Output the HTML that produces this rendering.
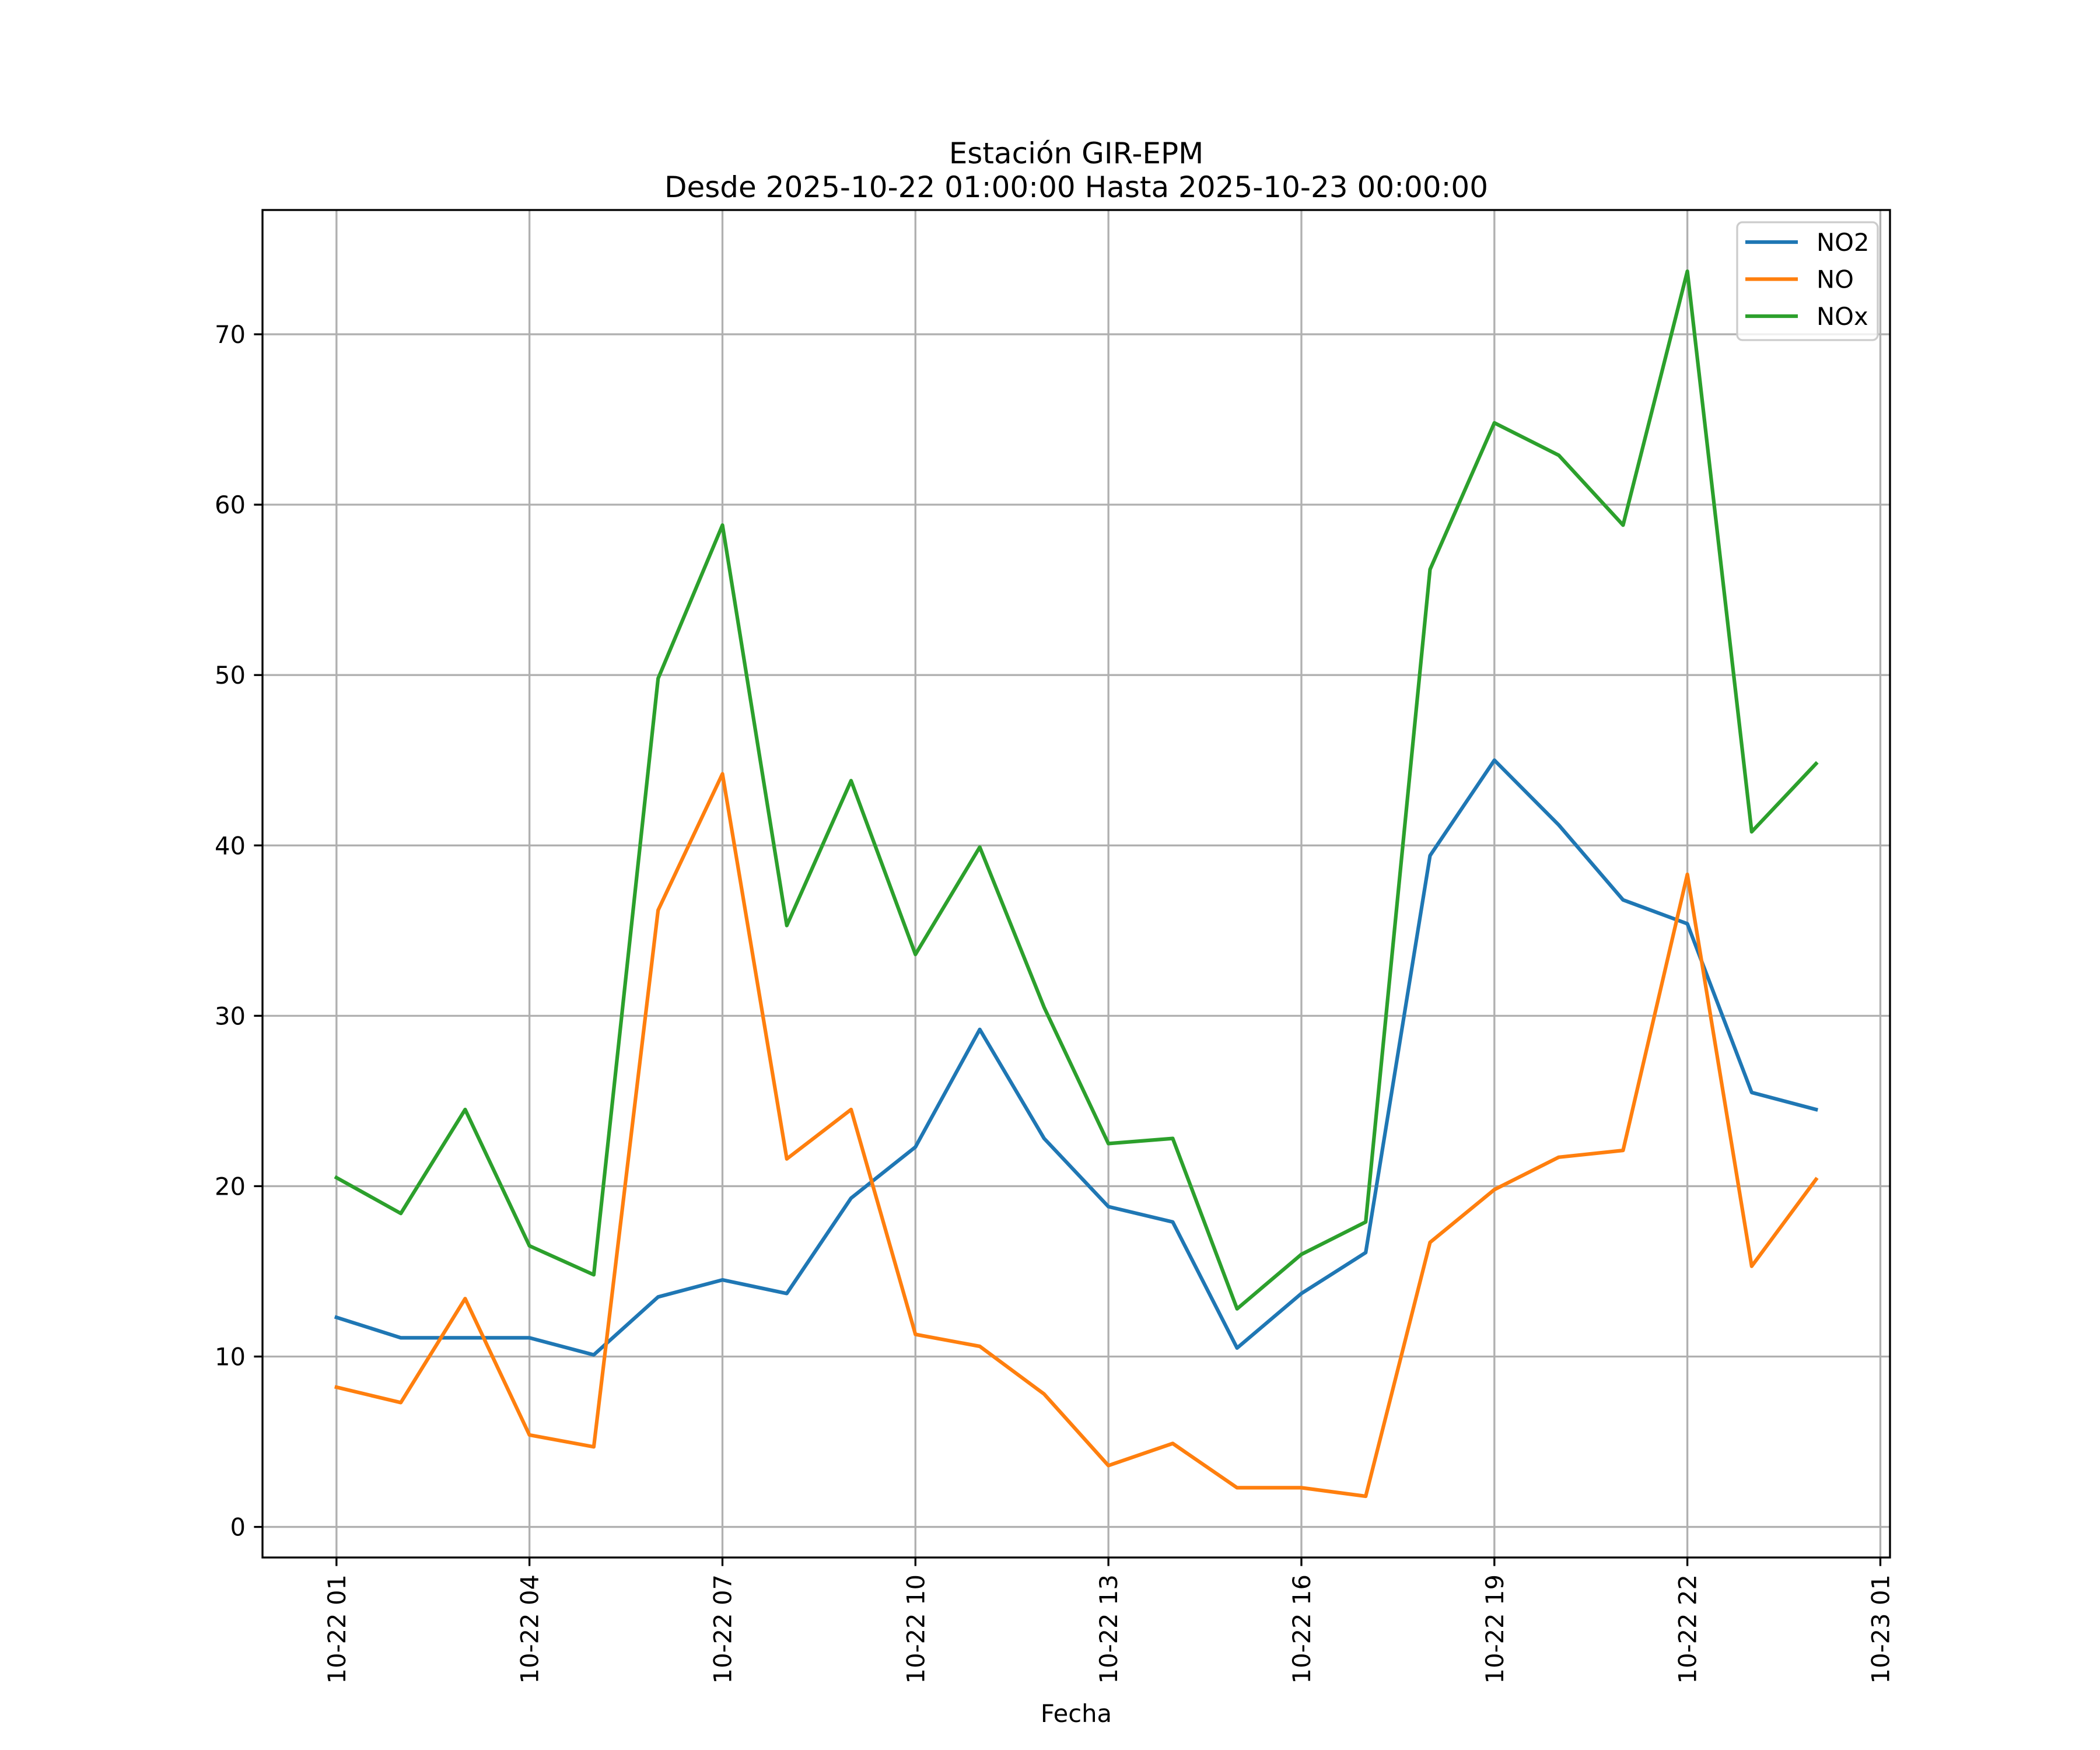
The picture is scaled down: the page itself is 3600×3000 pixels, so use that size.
<!DOCTYPE html>
<html><head><meta charset="utf-8"><style>
html,body{margin:0;padding:0;background:#fff;}
svg{display:block;font-family:"DejaVu Sans","Liberation Sans",sans-serif;}
</style></head><body>
<svg id="chart" width="3600" height="3000" viewBox="0 0 3600 3000" xmlns="http://www.w3.org/2000/svg">
<rect width="3600" height="3000" fill="#fff"/>
<text x="1845" y="280" font-size="50" text-anchor="middle">Estación GIR-EPM</text>
<text x="1845" y="338" font-size="50" text-anchor="middle">Desde 2025-10-22 01:00:00 Hasta 2025-10-23 00:00:00</text>
<g id="grid"></g>
<g id="series"></g>
<rect x="450" y="360" width="2790" height="2310" fill="none" stroke="#000" stroke-width="3.33"/>
<g id="ticks"></g>
<text x="1845" y="2952" font-size="41.7" text-anchor="middle">Fecha</text>
<g id="legend"></g>
</svg>
<script>
const hours = [0,1,2,3,4,5,6,7,8,9,10,11,12,13,14,15,16,17,18,19,20,21,22,23];
const no2 = [12.3,11.1,11.1,11.1,10.1,13.5,14.5,13.7,19.3,22.3,29.2,22.8,18.8,17.9,10.5,13.7,16.1,39.4,45.0,41.2,36.8,35.4,25.5,24.5];
const no = [8.2,7.3,13.4,5.4,4.7,36.2,44.2,21.6,24.5,11.3,10.6,7.8,3.6,4.9,2.3,2.3,1.8,16.7,19.8,21.7,22.1,38.3,15.3,20.4];
const nox = [20.5,18.4,24.5,16.5,14.8,49.8,58.8,35.3,43.8,33.6,39.9,30.5,22.5,22.8,12.8,16.0,17.9,56.2,64.8,62.9,58.8,73.7,40.8,44.8];
const seriesNames = ["NO2","NO","NOx"];
const xTickHours = [0,3,6,9,12,15,18,21,24];
const xTickLabels = ["10-22 01","10-22 04","10-22 07","10-22 10","10-22 13","10-22 16","10-22 19","10-22 22","10-23 01"];
const yTicks = [0,10,20,30,40,50,60,70];

const NS="http://www.w3.org/2000/svg";
const L=450,R=3240,T=360,B=2670;
const xmin0=Math.min(...hours), xmax0=Math.max(...hours);
const xm=(xmax0-xmin0)*0.05, xlo=xmin0-xm, xhi=xmax0+xm;
const all=no2.concat(no,nox);
const ymin0=Math.min(...all), ymax0=Math.max(...all);
const ym=(ymax0-ymin0)*0.05, ylo=ymin0-ym, yhi=ymax0+ym;
function xs(v){return L+(v-xlo)/(xhi-xlo)*(R-L);}
function ys(v){return B-(v-ylo)/(yhi-ylo)*(B-T);}
function mk(tag,attrs,parent){const e=document.createElementNS(NS,tag);for(const k in attrs)e.setAttribute(k,attrs[k]);parent.appendChild(e);return e;}
const grid=document.getElementById('grid'), ticks=document.getElementById('ticks'), ser=document.getElementById('series'), leg=document.getElementById('legend');
xTickHours.forEach((h,i)=>{
  const x=xs(h);
  const g=mk('line',{x1:x,x2:x,y1:T,y2:B,stroke:'#b0b0b0','stroke-width':3.33},grid);
  
  
  const t=mk('line',{x1:x,x2:x,y1:B,y2:B+14.6,stroke:'#000','stroke-width':3.33},ticks);
  
  
  const lb=mk('text',{x:0,y:0,'font-size':41.7,'text-anchor':'end',transform:`translate(${x+15},${B+29}) rotate(-90)`},ticks);
  lb.textContent=xTickLabels[i];
  
  
});
yTicks.forEach(v=>{
  const y=ys(v);
  const g=mk('line',{x1:L,x2:R,y1:y,y2:y,stroke:'#b0b0b0','stroke-width':3.33},grid);
  
  
  const t=mk('line',{x1:L-14.6,x2:L,y1:y,y2:y,stroke:'#000','stroke-width':3.33},ticks);
  
  
  const lb=mk('text',{x:L-29,y:y+15,'font-size':41.7,'text-anchor':'end'},ticks);
  lb.textContent=String(v);
  
  
});
const colors=['#1f77b4','#ff7f0e','#2ca02c'];
[no2,no,nox].forEach((arr,si)=>{
  const pts=arr.map((v,i)=>xs(hours[i]).toFixed(1)+','+ys(v).toFixed(1)).join(' ');
  const p=mk('polyline',{points:pts,fill:'none',stroke:colors[si],'stroke-width':6.25,'stroke-linejoin':'round','stroke-linecap':'square'},ser);
  
  
});
const box=mk('rect',{x:2978,y:381,width:241,height:202,rx:9,fill:'#fff','fill-opacity':0.8,stroke:'#cccccc','stroke-width':3.33},leg);


seriesNames.forEach((n,i)=>{
  const y=415+i*63.5;
  const ln=mk('line',{x1:2992,x2:3082,y1:y,y2:y,stroke:colors[i],'stroke-width':6.25},leg);
  
  
  const tx=mk('text',{x:3114,y:y+15,'font-size':41.7},leg);
  tx.textContent=n;
  
  
});
</script>
</body></html>
